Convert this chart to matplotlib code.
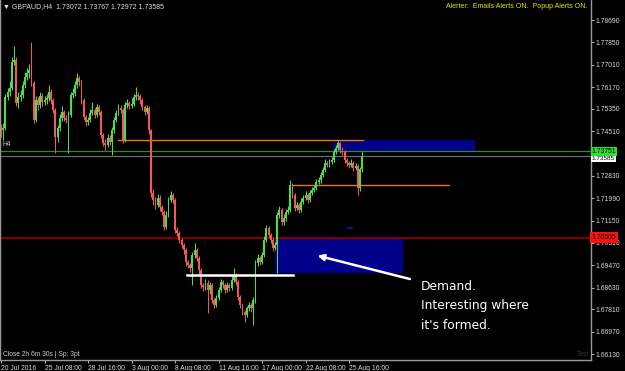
import matplotlib
matplotlib.use("Agg")
import matplotlib.pyplot as plt
import numpy as np

plt.rcParams['font.family'] = ['Liberation Sans', 'DejaVu Sans']

# GBPAUD H4 candles (prices)
first_open = 1.7463
closes = [
    1.7455, 1.7463, 1.7579, 1.7598, 1.7613, 1.7711, 1.7719, 1.7557, 1.7579, 1.7587,
    1.7625, 1.7655, 1.7670, 1.7681, 1.7632, 1.7493, 1.7568, 1.7549, 1.7583, 1.7561,
    1.7568, 1.7576, 1.7598, 1.7568, 1.7531, 1.7429, 1.7463, 1.7501, 1.7523, 1.7501,
    1.7493, 1.7512, 1.7587, 1.7595, 1.7625, 1.7651, 1.7636, 1.7568, 1.7504, 1.7486,
    1.7493, 1.7519, 1.7531, 1.7512, 1.7542, 1.7523, 1.7437, 1.7407, 1.7399, 1.7425,
    1.7410, 1.7455, 1.7493, 1.7519, 1.7538, 1.7531, 1.7418, 1.7549, 1.7557, 1.7546,
    1.7553, 1.7579, 1.7587, 1.7583, 1.7568, 1.7542, 1.7523, 1.7538, 1.7455, 1.7219,
    1.7192, 1.7173, 1.7200, 1.7166, 1.7147, 1.7091, 1.7136, 1.7192, 1.7211, 1.7192,
    1.7079, 1.7068, 1.7042, 1.7023, 1.7004, 1.6959, 1.6948, 1.6937, 1.6985, 1.7004,
    1.6974, 1.6929, 1.6873, 1.6865, 1.6880, 1.6854, 1.6873, 1.6816, 1.6797, 1.6824,
    1.6854, 1.6884, 1.6873, 1.6854, 1.6873, 1.6861, 1.6891, 1.6910, 1.6884, 1.6827,
    1.6797, 1.6771, 1.6760, 1.6786, 1.6797, 1.6786, 1.6816, 1.6955, 1.6974, 1.6959,
    1.6985, 1.7042, 1.7087, 1.7061, 1.7042, 1.7012, 1.7023, 1.7136, 1.7155, 1.7109,
    1.7125, 1.7147, 1.7155, 1.7249, 1.7211, 1.7162, 1.7173, 1.7155, 1.7185, 1.7200,
    1.7211, 1.7192, 1.7219, 1.7230, 1.7237, 1.7260, 1.7267, 1.7286, 1.7305, 1.7331,
    1.7324, 1.7335, 1.7343, 1.7373, 1.7388, 1.7407, 1.7380, 1.7373, 1.7343, 1.7331,
    1.7324, 1.7331, 1.7313, 1.7320, 1.7237, 1.7307, 1.73585,
]
highs = [
    1.7478, 1.7480, 1.7590, 1.7612, 1.7640, 1.7730, 1.7771, 1.7730, 1.7600, 1.7605,
    1.7640, 1.7672, 1.7690, 1.7705, 1.7786, 1.7640, 1.7585, 1.7580, 1.7598, 1.7595,
    1.7585, 1.7590, 1.7625, 1.7610, 1.7575, 1.7540, 1.7475, 1.7515, 1.7545, 1.7530,
    1.7510, 1.7525, 1.7600, 1.7612, 1.7640, 1.7670, 1.7660, 1.7645, 1.7575, 1.7512,
    1.7505, 1.7535, 1.7560, 1.7540, 1.7555, 1.7550, 1.7530, 1.7445, 1.7420, 1.7440,
    1.7435, 1.7468, 1.7505, 1.7530, 1.7552, 1.7548, 1.7540, 1.7562, 1.7572, 1.7565,
    1.7575, 1.7592, 1.7617, 1.7600, 1.7592, 1.7575, 1.7550, 1.7550, 1.7545, 1.7460,
    1.7235, 1.7205, 1.7215, 1.7210, 1.7175, 1.7155, 1.7150, 1.7205, 1.7225, 1.7218,
    1.7200, 1.7090, 1.7075, 1.7050, 1.7030, 1.7012, 1.6968, 1.6955, 1.6995, 1.7030,
    1.7012, 1.6980, 1.6935, 1.6880, 1.6895, 1.6890, 1.6885, 1.6880, 1.6825, 1.6835,
    1.6865, 1.6895, 1.6892, 1.6880, 1.6885, 1.6880, 1.6905, 1.6935, 1.6918, 1.6890,
    1.6835, 1.6805, 1.6780, 1.6795, 1.6810, 1.6805, 1.6828, 1.6965, 1.6988, 1.6982,
    1.6998, 1.7055, 1.7100, 1.7095, 1.7070, 1.7050, 1.7035, 1.7148, 1.7170, 1.7162,
    1.7138, 1.7160, 1.7170, 1.7267, 1.7255, 1.7218, 1.7185, 1.7182, 1.7198, 1.7212,
    1.7225, 1.7218, 1.7230, 1.7242, 1.7250, 1.7272, 1.7280, 1.7298, 1.7318, 1.7345,
    1.7340, 1.7348, 1.7355, 1.7385, 1.7400, 1.7418, 1.7412, 1.7390, 1.7380, 1.7350,
    1.7340, 1.7345, 1.7338, 1.7332, 1.7328, 1.7315, 1.73767,
]
lows = [
    1.7430, 1.7418, 1.7455, 1.7570, 1.7585, 1.7605, 1.7698, 1.7545, 1.7540, 1.7565,
    1.7575, 1.7612, 1.7645, 1.7652, 1.7620, 1.7480, 1.7485, 1.7530, 1.7538, 1.7545,
    1.7550, 1.7555, 1.7565, 1.7555, 1.7520, 1.7369, 1.7410, 1.7450, 1.7490, 1.7488,
    1.7480, 1.7369, 1.7505, 1.7575, 1.7585, 1.7615, 1.7622, 1.7555, 1.7492, 1.7470,
    1.7475, 1.7485, 1.7510, 1.7500, 1.7505, 1.7510, 1.7425, 1.7395, 1.7380, 1.7390,
    1.7398, 1.7361, 1.7445, 1.7485, 1.7510, 1.7520, 1.7405, 1.7410, 1.7540, 1.7535,
    1.7540, 1.7545, 1.7570, 1.7570, 1.7555, 1.7530, 1.7510, 1.7515, 1.7440, 1.7205,
    1.7175, 1.7160, 1.7165, 1.7150, 1.7135, 1.7080, 1.7085, 1.7128, 1.7185, 1.7180,
    1.7068, 1.7055, 1.7030, 1.7010, 1.6990, 1.6945, 1.6935, 1.6922, 1.6873, 1.6975,
    1.6962, 1.6915, 1.6860, 1.6850, 1.6855, 1.6767, 1.6840, 1.6805, 1.6785, 1.6790,
    1.6815, 1.6845, 1.6860, 1.6842, 1.6845, 1.6850, 1.6855, 1.6885, 1.6872, 1.6815,
    1.6785, 1.6760, 1.6733, 1.6752, 1.6775, 1.6772, 1.6722, 1.6805, 1.6945, 1.6948,
    1.6950, 1.6978, 1.7035, 1.7050, 1.7030, 1.7000, 1.7005, 1.6918, 1.7125, 1.7098,
    1.7100, 1.7115, 1.7140, 1.7148, 1.7200, 1.7150, 1.7155, 1.7145, 1.7148, 1.7178,
    1.7192, 1.7182, 1.7185, 1.7210, 1.7222, 1.7228, 1.7252, 1.7258, 1.7278, 1.7298,
    1.7315, 1.7318, 1.7328, 1.7335, 1.7365, 1.7380, 1.7370, 1.7362, 1.7332, 1.7320,
    1.7312, 1.7318, 1.7302, 1.7305, 1.7211, 1.7225, 1.72972,
]

price_ticks = [1.78690, 1.77850, 1.77010, 1.76170, 1.75350, 1.74510, 1.72830,
               1.71990, 1.71150, 1.70310, 1.69470, 1.68630, 1.67810, 1.66970, 1.66130]
time_ticks = [0, 20, 40, 60, 80, 100, 120, 140, 160]
time_labels = ["20 Jul 2016", "25 Jul 08:00", "28 Jul 16:00", "3 Aug 00:00", "8 Aug 08:00",
               "11 Aug 16:00", "17 Aug 00:00", "22 Aug 08:00", "25 Aug 16:00"]

ask_price = 1.73751
bid_price = 1.73585
red_level = 1.70505
# drawn objects: (start bar, end bar, price)
orange_levels = [(53.8, 166.4, 1.7418), (133.8, 206.0, 1.7249)]
white_level = (85.5, 134.3, 1.6910)
# supply / demand boxes: (start bar, end bar, low, high)
boxes = [(152.6, 217.9, 1.7375, 1.7418), (126.0, 184.8, 1.6918, 1.70505)]

opens = np.array([first_open] + closes[:-1])
closes = np.array(closes)
highs = np.array(highs)
lows = np.array(lows)
idx = np.arange(len(closes))

fig = plt.figure(figsize=(6.25, 3.71), dpi=100, facecolor='black')
ax = fig.add_axes([0, 11 / 371, 591 / 625, 360 / 371], facecolor='black')

ax.set_xlim(-0.46, 271.26)
ax.set_ylim(1.65906, 1.79442)

for x0, x1, lo, hi in boxes:
    ax.fill_between([x0, x1], lo, hi, color='#00008b', lw=0, zorder=1)

ax.axhline(red_level, color='#7a0000', lw=1.6, zorder=1.5)
ax.axhline(ask_price, color='#2e8b2e', lw=0.9, zorder=1.5)
ax.axhline(bid_price, color='#6a6a74', lw=0.9, zorder=1.5)
for x0, x1, p in orange_levels:
    ax.plot([x0, x1], [p, p], color='#e8780c', lw=1.0, zorder=1.6)
ax.plot([white_level[0], white_level[1]], [white_level[2]] * 2, color='white', lw=1.8, zorder=4)
ax.plot([159.5, 161.5], [1.7087, 1.7087], color='#1010d0', lw=1.2, zorder=1.6)

bull = closes >= opens
cols = np.where(bull, '#4cdc4c', '#f25a5a')
ax.vlines(idx, lows, highs, colors=cols, lw=0.75, zorder=2)
body_lo = np.minimum(opens, closes)
body_h = np.maximum(np.abs(closes - opens), 0.0002)
ax.bar(idx, body_h, bottom=body_lo, width=0.85, color=cols, lw=0, zorder=2.2)

# arrow and note
ax.annotate("", xy=(145.5, 1.6983), xytext=(188.0, 1.6895),
            arrowprops=dict(arrowstyle='-|>', color='white', lw=1.8,
                            mutation_scale=9, shrinkA=0, shrinkB=0), zorder=5)
fig.text(421 / 625, 1 - 280 / 371, "Demand.\nInteresting where\nit's formed.",
         color='white', fontsize=8.8, family='DejaVu Sans', va='top', ha='left',
         linespacing=1.65)

# axes styling
ax.spines['top'].set_visible(False)
for s in ['left', 'right', 'bottom']:
    ax.spines[s].set_color('#9a9a9a')
    ax.spines[s].set_linewidth(1.0)

ax.yaxis.tick_right()
ax.set_yticks(price_ticks)
ax.set_yticklabels(["%.5f" % p for p in price_ticks])
ax.tick_params(axis='y', colors='#d8d8d8', labelsize=4.9, length=2, width=0.6, pad=1.5)
ax.set_xticks(time_ticks)
ax.set_xticklabels(time_labels)
ax.tick_params(axis='x', colors='#d8d8d8', labelsize=4.9, length=2.5, width=0.6, pad=1.2)
for lbl in ax.get_xticklabels():
    lbl.set_ha('left')

# price labels on the scale
yt = ax.get_yaxis_transform()
ax.text(1.0015, bid_price - 0.0012, "1.73585", transform=yt, fontsize=4.6,
        color='black', va='center', ha='left', zorder=6, clip_on=False,
        bbox=dict(boxstyle='square,pad=0.1', fc='white', ec='none'))
ax.text(1.0015, ask_price, "1.73751", transform=yt, fontsize=4.9,
        color='black', va='center', ha='left', zorder=7, clip_on=False,
        bbox=dict(boxstyle='square,pad=0.12', fc='#33dd33', ec='none'))
ax.text(1.0015, red_level, "1.70505", transform=yt, fontsize=4.9,
        color='black', va='center', ha='left', zorder=7, clip_on=False,
        bbox=dict(boxstyle='square,pad=0.25', fc='#ff1010', ec='none'))

fig.text(3 / 625, 1 - 7 / 371, "\u25bc GBPAUD,H4  1.73072 1.73767 1.72972 1.73585",
         color='#e0e0e0', fontsize=5, va='center', ha='left')
fig.text(587 / 625, 1 - 7 / 371, "Alerter:  Emails Alerts ON.  Popup Alerts ON.",
         color='#e6e600', fontsize=5, va='center', ha='right')
fig.text(3 / 625, 1 - 148 / 371, "H4", color='#c8c8c8', fontsize=4.8, va='bottom', ha='left')
fig.text(3 / 625, 1 - 354 / 371, "Close 2h 6m 30s | Sp: 3pt", color='#d0d0d0',
         fontsize=4.8, va='center', ha='left')
fig.text(577 / 625, 1 - 354 / 371, "Test", color='#3a3a3a', fontsize=4.8,
         va='center', ha='left')

fig.savefig("out.png", dpi=100, facecolor='black')
